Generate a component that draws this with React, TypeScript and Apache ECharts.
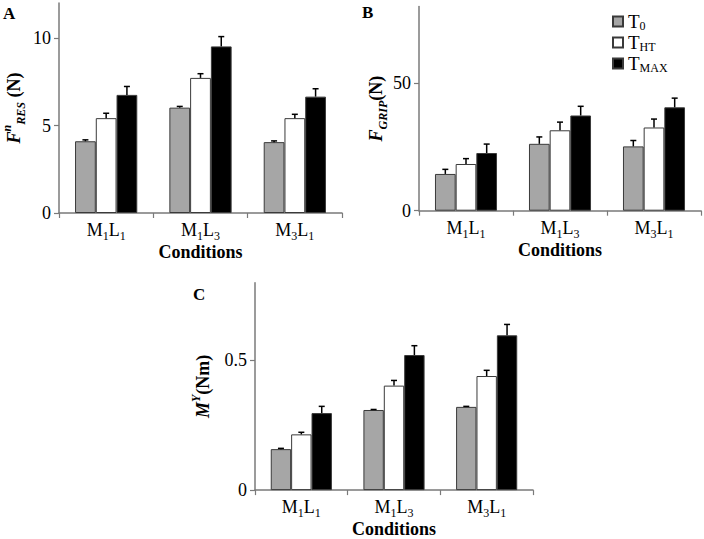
import React, { useEffect, useRef } from "react";
import * as echarts from "echarts";

const categories = ["M1L1", "M1L3", "M3L1"];
const seriesNames = ["T0", "THT", "TMAX"];

// Panel A: F^n_RES (N)
const aT0 = [4.1, 6.02, 4.05];
const aT0Err = [0.08, 0.07, 0.07];
const aTHT = [5.42, 7.72, 5.42];
const aTHTErr = [0.28, 0.24, 0.22];
const aTMAX = [6.75, 9.52, 6.65];
const aTMAXErr = [0.48, 0.56, 0.45];

// Panel B: F_GRIP (N)
const bT0 = [14.4, 26.2, 25.2];
const bT0Err = [1.8, 2.7, 2.3];
const bTHT = [18.3, 31.5, 32.6];
const bTHTErr = [2.1, 3.2, 3.3];
const bTMAX = [22.6, 37.3, 40.5];
const bTMAXErr = [3.5, 3.6, 3.6];

// Panel C: M^Y (Nm)
const cT0 = [0.158, 0.309, 0.321];
const cT0Err = [0.003, 0.002, 0.002];
const cTHT = [0.215, 0.403, 0.44];
const cTHTErr = [0.008, 0.02, 0.022];
const cTMAX = [0.297, 0.521, 0.597];
const cTMAXErr = [0.026, 0.036, 0.042];

const aTicks = [0, 5, 10];
const bTicks = [0, 50];
const cTicks = [0, 0.5];

const FONT = '"Liberation Serif", "Times New Roman", serif';
const GAP = 0.34;
const COLORS = ["#a6a6a6", "#ffffff", "#000000"];
const AXIS_COLOR = "#7a7a7a";

const catLabel = (name: string) =>
  name.replace(/([A-Z])(\d)/g, "{m|$1}{s|$2}");

const legendLabel: Record<string, string> = {
  T0: "{m|T}{s|0}",
  THT: "{m|T}{s|HT}",
  TMAX: "{m|T}{s|MAX}",
};

const nameRich = {
  fi: { fontFamily: FONT, fontSize: 18, fontWeight: "bold", fontStyle: "italic", lineHeight: 26, color: "#000" },
  sup: { fontFamily: FONT, fontSize: 12, fontWeight: "bold", fontStyle: "italic", verticalAlign: "top", lineHeight: 12, color: "#000" },
  sub: { fontFamily: FONT, fontSize: 12, fontWeight: "bold", fontStyle: "italic", verticalAlign: "bottom", lineHeight: 12, color: "#000" },
  b: { fontFamily: FONT, fontSize: 18, fontWeight: "bold", lineHeight: 26, color: "#000" },
};

const labelRich = {
  m: { fontFamily: FONT, fontSize: 18, lineHeight: 24, color: "#000" },
  s: { fontFamily: FONT, fontSize: 12, lineHeight: 12, verticalAlign: "bottom", color: "#000" },
};

const legendRich = {
  m: { fontFamily: FONT, fontSize: 19, lineHeight: 21, color: "#000" },
  s: { fontFamily: FONT, fontSize: 12, lineHeight: 10, verticalAlign: "bottom", color: "#000" },
};

export default function App() {
  const ref = useRef<HTMLDivElement>(null);
  useEffect(() => {
    if (!ref.current) return;
    const chart = echarts.init(ref.current, null, { renderer: "svg" });

    const panels = [
      { vals: [aT0, aTHT, aTMAX], errs: [aT0Err, aTHTErr, aTMAXErr], max: 12, ticks: aTicks, name: "{fi|F}{sup|n}{sub|RES}{b| (N)}", nameGap: 32 },
      { vals: [bT0, bTHT, bTMAX], errs: [bT0Err, bTHTErr, bTMAXErr], max: 80, ticks: bTicks, name: "{fi|F}{sub|GRIP}{b|(N)}", nameGap: 30 },
      { vals: [cT0, cTHT, cTMAX], errs: [cT0Err, cTHTErr, cTMAXErr], max: 0.8, ticks: cTicks, name: "{fi|M}{sup|Y}{b|(Nm)}", nameGap: 39 },
    ];

    const grids = [
      { left: 56, top: 3, width: 286, height: 210 },
      { left: 419, top: 6.5, width: 282, height: 204.2 },
      { left: 255, top: 282.7, width: 278, height: 210.6 },
    ];

    const xAxis = panels.map((_, i) => ({
      type: "category",
      gridIndex: i,
      data: categories,
      name: "Conditions",
      nameLocation: "middle",
      nameGap: 26,
      nameTextStyle: { fontFamily: FONT, fontSize: 18, fontWeight: "bold", color: "#000" },
      axisLine: { lineStyle: { color: AXIS_COLOR, width: 1.5 } },
      axisTick: { show: true, length: 5, lineStyle: { color: AXIS_COLOR, width: 1.2 } },
      axisLabel: { formatter: catLabel, rich: labelRich, margin: 5, interval: 0 },
    }));

    const yAxis = panels.map((p, i) => ({
      type: "value",
      gridIndex: i,
      min: 0,
      max: p.max,
      name: p.name,
      nameLocation: "middle",
      nameGap: p.nameGap,
      nameTextStyle: { rich: nameRich },
      splitLine: { show: false },
      axisLine: { show: true, lineStyle: { color: AXIS_COLOR, width: 1.5 } },
      axisTick: { show: true, length: 5, customValues: p.ticks, lineStyle: { color: AXIS_COLOR, width: 1.2 } },
      axisLabel: { customValues: p.ticks, fontFamily: FONT, fontSize: 18, color: "#000", margin: 8 },
    }));

    const series: any[] = [];
    panels.forEach((p, gi) => {
      p.vals.forEach((v, k) => {
        series.push({
          type: "bar",
          name: seriesNames[k],
          xAxisIndex: gi,
          yAxisIndex: gi,
          data: v,
          barGap: "0%",
          barCategoryGap: GAP * 100 + "%",
          itemStyle: { color: COLORS[k], borderColor: "#3a3a3a", borderWidth: 1 },
        });
      });
      const errData: number[][] = [];
      p.vals.forEach((v, k) => {
        v.forEach((val, c) => errData.push([c, val, p.errs[k][c], k]));
      });
      series.push({
        type: "custom",
        xAxisIndex: gi,
        yAxisIndex: gi,
        z: 10,
        data: errData,
        encode: { x: 0, y: 1 },
        renderItem: (params: any, api: any) => {
          const c = api.value(0);
          const val = api.value(1);
          const err = api.value(2);
          const k = api.value(3);
          const band = api.size([1, 0])[0];
          const bw = (band * (1 - GAP)) / 3;
          const cx = api.coord([c, 0])[0] + (k - 1) * bw;
          const yBase = api.coord([c, val])[1];
          const yTop = api.coord([c, val + err])[1];
          return {
            type: "group",
            children: [
              { type: "line", shape: { x1: cx, y1: yBase, x2: cx, y2: yTop }, style: { stroke: "#000", lineWidth: 1.5 } },
              { type: "line", shape: { x1: cx - 3, y1: yTop, x2: cx + 3, y2: yTop }, style: { stroke: "#000", lineWidth: 1.5 } },
            ],
          };
        },
      });
    });

    chart.setOption({
      animation: false,
      backgroundColor: "#fff",
      grid: grids,
      xAxis,
      yAxis,
      legend: {
        data: seriesNames,
        orient: "vertical",
        left: 607,
        top: 6,
        icon: "rect",
        itemWidth: 10,
        itemHeight: 10,
        itemGap: 0,
        formatter: (n: string) => legendLabel[n],
        textStyle: { fontFamily: FONT, fontSize: 19, color: "#000", lineHeight: 21, rich: legendRich },
      },
      graphic: [
        { type: "text", left: 3, top: 5, style: { text: "A", font: `bold 17px ${FONT}`, fill: "#000" } },
        { type: "text", left: 362, top: 4, style: { text: "B", font: `bold 17px ${FONT}`, fill: "#000" } },
        { type: "text", left: 193, top: 286, style: { text: "C", font: `bold 17px ${FONT}`, fill: "#000" } },
      ],
      series,
    });
    return () => chart.dispose();
  }, []);
  return (
    <div
      ref={ref}
      style={{ position: "fixed", left: 0, top: 0, width: 704, height: 539, background: "#fff" }}
    />
  );
}
